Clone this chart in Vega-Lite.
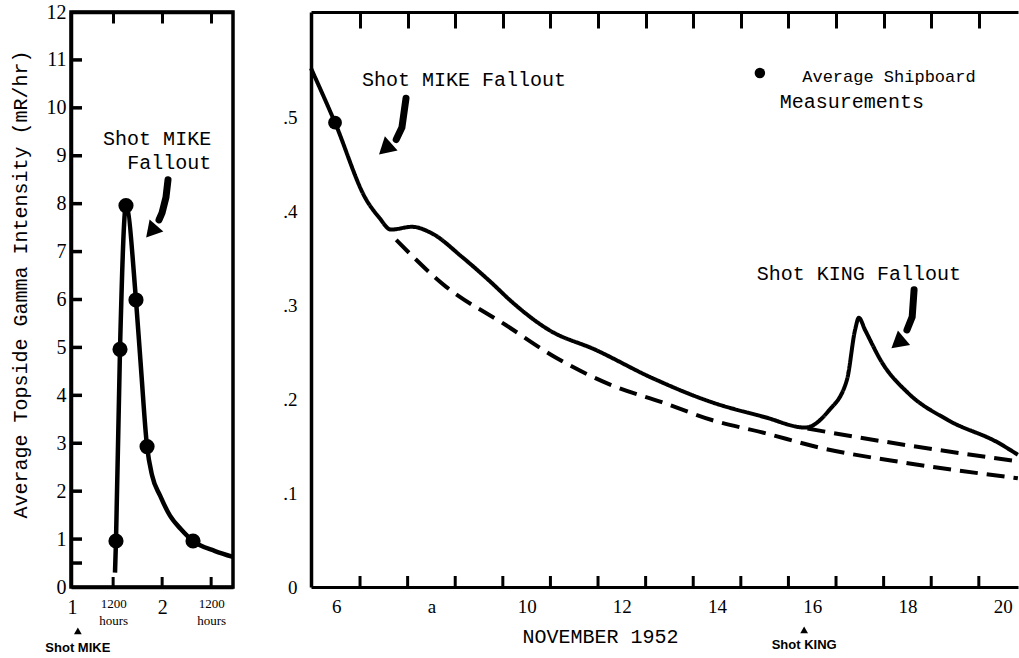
{
  "$schema": "https://vega.github.io/schema/vega-lite/v6.json",
  "background": "white",
  "padding": {"left": 8, "top": 0, "right": 0, "bottom": 0},
  "spacing": 38,
  "config": {
    "view": {"stroke": null},
    "axis": {"grid": false, "labelColor": "black", "titleColor": "black", "domainColor": "black", "tickColor": "black", "labelFont": "Liberation Serif", "titleFont": "Liberation Mono", "titleFontWeight": "normal", "labelFlush": false, "labelOverlap": false},
    "text": {"font": "Liberation Mono", "fontSize": 20, "color": "black"}
  },
  "datasets": {
    "leftCurve": [
      {"day": 1.519, "mR": 0.3}, {"day": 1.529, "mR": 0.96}, {"day": 1.57, "mR": 4.96}, {"day": 1.631, "mR": 7.96},
      {"day": 1.733, "mR": 5.99}, {"day": 1.784, "mR": 4.57}, {"day": 1.846, "mR": 2.93}, {"day": 1.897, "mR": 2.33},
      {"day": 1.978, "mR": 1.91}, {"day": 2.08, "mR": 1.49}, {"day": 2.19, "mR": 1.21}, {"day": 2.315, "mR": 0.96},
      {"day": 2.54, "mR": 0.75}, {"day": 2.723, "mR": 0.63}
    ],
    "leftPoints": [
      {"day": 1.529, "mR": 0.96}, {"day": 1.57, "mR": 4.96}, {"day": 1.631, "mR": 7.96},
      {"day": 1.733, "mR": 5.99}, {"day": 1.846, "mR": 2.93}, {"day": 2.315, "mR": 0.96}
    ],
    "leftYTicks": [
      {"mR": 0.5}, {"mR": 1}, {"mR": 2}, {"mR": 3}, {"mR": 4}, {"mR": 5}, {"mR": 6},
      {"mR": 7}, {"mR": 8}, {"mR": 9}, {"mR": 10}, {"mR": 11}
    ],
    "leftXTicks": [{"day": 1.5}, {"day": 2}, {"day": 2.5}],
    "leftArrow": [
      {"order": 1, "day": 2.06, "mR": 8.5}, {"order": 2, "day": 2.039, "mR": 8.13},
      {"order": 3, "day": 1.999, "mR": 7.81}, {"order": 4, "day": 1.968, "mR": 7.66}
    ],
    "leftHead": [{"day": 1.907, "mR": 7.46}],
    "leftNotes": [{"day": 2.5, "mR": 9.35, "text": "Shot MIKE"}, {"day": 2.5, "mR": 8.85, "text": "Fallout"}],
    "leftShot": [{"day": 1.14, "mR": -0.94, "labelAt": -1.28, "text": "Shot MIKE"}],
    "rightXTicks": [
      {"day": 6.5}, {"day": 7.5}, {"day": 8.5}, {"day": 9.5}, {"day": 10.5}, {"day": 11.5}, {"day": 12.5},
      {"day": 13.5}, {"day": 14.5}, {"day": 15.5}, {"day": 16.5}, {"day": 17.5}, {"day": 18.5}, {"day": 19.5}
    ],
    "rightCurve": [
      {"series": "measured", "day": 5.47, "rate": 0.553}, {"series": "measured", "day": 5.975, "rate": 0.495},
      {"series": "measured", "day": 6.63, "rate": 0.413}, {"series": "measured", "day": 6.9, "rate": 0.394},
      {"series": "measured", "day": 7.15, "rate": 0.381}, {"series": "measured", "day": 7.59, "rate": 0.384},
      {"series": "measured", "day": 8.01, "rate": 0.377}, {"series": "measured", "day": 8.64, "rate": 0.352},
      {"series": "measured", "day": 9.27, "rate": 0.324}, {"series": "measured", "day": 9.69, "rate": 0.304},
      {"series": "measured", "day": 10.47, "rate": 0.274}, {"series": "measured", "day": 11.44, "rate": 0.253},
      {"series": "measured", "day": 12.63, "rate": 0.223}, {"series": "measured", "day": 13.89, "rate": 0.197},
      {"series": "measured", "day": 15.01, "rate": 0.181}, {"series": "measured", "day": 15.85, "rate": 0.17},
      {"series": "measured", "day": 16.33, "rate": 0.187}, {"series": "measured", "day": 16.73, "rate": 0.221},
      {"series": "measured", "day": 16.9, "rate": 0.274}, {"series": "measured", "day": 16.98, "rate": 0.287},
      {"series": "measured", "day": 17.11, "rate": 0.274}, {"series": "measured", "day": 17.47, "rate": 0.239},
      {"series": "measured", "day": 18.01, "rate": 0.207}, {"series": "measured", "day": 18.85, "rate": 0.178},
      {"series": "measured", "day": 19.9, "rate": 0.154}, {"series": "measured", "day": 20.32, "rate": 0.141},
      {"series": "MIKE decay", "day": 7.26, "rate": 0.37}, {"series": "MIKE decay", "day": 8.31, "rate": 0.32},
      {"series": "MIKE decay", "day": 9.57, "rate": 0.279}, {"series": "MIKE decay", "day": 10.6, "rate": 0.245},
      {"series": "MIKE decay", "day": 11.79, "rate": 0.215}, {"series": "MIKE decay", "day": 12.84, "rate": 0.197},
      {"series": "MIKE decay", "day": 13.89, "rate": 0.178}, {"series": "MIKE decay", "day": 15.01, "rate": 0.164},
      {"series": "MIKE decay", "day": 16.12, "rate": 0.149}, {"series": "MIKE decay", "day": 18.01, "rate": 0.132},
      {"series": "MIKE decay", "day": 20.32, "rate": 0.116},
      {"series": "KING decay", "day": 15.9, "rate": 0.169}, {"series": "KING decay", "day": 16.12, "rate": 0.167},
      {"series": "KING decay", "day": 18.01, "rate": 0.151}, {"series": "KING decay", "day": 20.32, "rate": 0.134}
    ],
    "rightPoints": [{"day": 5.975, "rate": 0.495}],
    "rightArrows": [
      {"arrow": "MIKE", "order": 1, "day": 7.466, "rate": 0.521}, {"arrow": "MIKE", "order": 2, "day": 7.38, "rate": 0.49},
      {"arrow": "MIKE", "order": 3, "day": 7.26, "rate": 0.477},
      {"arrow": "KING", "order": 1, "day": 18.14, "rate": 0.317}, {"arrow": "KING", "order": 2, "day": 18.1, "rate": 0.288},
      {"arrow": "KING", "order": 3, "day": 17.99, "rate": 0.274}
    ],
    "rightHeads": [{"arrow": "MIKE", "day": 7.07, "rate": 0.469}, {"arrow": "KING", "day": 17.84, "rate": 0.262}],
    "rightNotes": [
      {"note": "MIKE", "day": 6.54, "rate": 0.54, "text": "Shot MIKE Fallout"},
      {"note": "KING", "day": 16.98, "rate": 0.334, "text": "Shot KING Fallout"}
    ],
    "legendMark": [{"day": 14.9, "rate": 0.548}],
    "legendText": [
      {"line": 1, "day": 15.79, "rate": 0.544, "text": "Average  Shipboard"},
      {"line": 2, "day": 15.32, "rate": 0.517, "text": "Measurements"}
    ],
    "kingShot": [{"day": 15.83, "rate": -0.047, "labelAt": -0.062, "text": "Shot KING"}]
  },
  "hconcat": [
    {
      "width": 162,
      "height": 575,
      "view": {"stroke": "black", "strokeWidth": 3.5},
      "resolve": {"axis": {"x": "independent"}},
      "layer": [
        {
          "data": {"name": "leftCurve"},
          "mark": {"type": "line", "interpolate": "monotone", "color": "black", "strokeWidth": 4.5},
          "encoding": {
            "x": {"field": "day", "type": "quantitative", "scale": {"domain": [1.07, 2.723], "nice": false, "zero": false},
              "axis": {"orient": "bottom", "title": null, "values": [1.08, 1.5, 2, 2.5], "domainWidth": 3.5, "ticks": false,
                "labelExpr": "datum.value < 1.2 ? '1' : datum.value == 2 ? '2' : ['1200', 'hours']",
                "labelFontSize": {"condition": {"test": "datum.value < 1.2 || datum.value == 2", "value": 20}, "value": 13},
                "labelLineHeight": 17, "labelPadding": 10}},
            "y": {"field": "mR", "type": "quantitative", "scale": {"domain": [0, 12], "nice": false},
              "axis": {"orient": "left", "values": [0, 1, 2, 3, 4, 5, 6, 7, 8, 9, 10, 11, 12], "format": "d",
                "labelFontSize": 20, "domainWidth": 3.5, "ticks": false, "labelPadding": 5,
                "title": "Average Topside Gamma Intensity (mR/hr)", "titleFontSize": 20, "titlePadding": 16, "titleY": 272}}
          }
        },
        {
          "data": {"name": "leftPoints"},
          "mark": {"type": "point", "opacity": 0},
          "encoding": {
            "x": {"field": "day", "type": "quantitative", "axis": {"orient": "top", "title": null, "values": [1.5, 2, 2.5], "labels": false, "domainWidth": 3.5, "tickSize": -11, "tickWidth": 3}},
            "y": {"field": "mR", "type": "quantitative"}
          }
        },
        {
          "data": {"name": "leftYTicks"},
          "mark": {"type": "rule", "color": "black", "strokeWidth": 3.5, "x2Offset": 11},
          "encoding": {
            "x": {"datum": 1.07, "type": "quantitative", "axis": null},
            "x2": {"datum": 1.07},
            "y": {"field": "mR", "type": "quantitative"}
          }
        },
        {
          "data": {"name": "leftXTicks"},
          "mark": {"type": "rule", "color": "black", "strokeWidth": 3, "y2Offset": -10},
          "encoding": {
            "x": {"field": "day", "type": "quantitative", "axis": null},
            "y": {"datum": 0, "type": "quantitative"},
            "y2": {"datum": 0}
          }
        },
        {
          "data": {"name": "leftPoints"},
          "mark": {"type": "circle", "color": "black", "opacity": 1, "size": 230},
          "encoding": {"x": {"field": "day", "type": "quantitative", "axis": null}, "y": {"field": "mR", "type": "quantitative"}}
        },
        {
          "data": {"name": "leftArrow"},
          "mark": {"type": "line", "color": "black", "strokeWidth": 7, "strokeCap": "round"},
          "encoding": {"x": {"field": "day", "type": "quantitative", "axis": null}, "y": {"field": "mR", "type": "quantitative"}, "order": {"field": "order"}}
        },
        {
          "data": {"name": "leftHead"},
          "mark": {"type": "point", "shape": "triangle", "filled": true, "color": "black", "opacity": 1, "size": 330, "angle": 221},
          "encoding": {"x": {"field": "day", "type": "quantitative", "axis": null}, "y": {"field": "mR", "type": "quantitative"}}
        },
        {
          "data": {"name": "leftNotes"},
          "mark": {"type": "text", "align": "right", "baseline": "middle"},
          "encoding": {"x": {"field": "day", "type": "quantitative", "axis": null}, "y": {"field": "mR", "type": "quantitative"}, "text": {"field": "text"}}
        },
        {
          "data": {"name": "leftShot"},
          "mark": {"type": "point", "shape": "triangle", "filled": true, "color": "black", "opacity": 1, "size": 60},
          "encoding": {"x": {"field": "day", "type": "quantitative", "axis": null}, "y": {"field": "mR", "type": "quantitative"}}
        },
        {
          "data": {"name": "leftShot"},
          "mark": {"type": "text", "font": "Liberation Sans", "fontWeight": "bold", "fontSize": 13, "baseline": "middle"},
          "encoding": {"x": {"field": "day", "type": "quantitative", "axis": null}, "y": {"field": "labelAt", "type": "quantitative"}, "text": {"field": "text"}}
        }
      ]
    },
    {
      "width": 707,
      "height": 575,
      "resolve": {"axis": {"x": "independent"}},
      "layer": [
        {
          "data": {"name": "rightCurve"},
          "mark": {"type": "line", "interpolate": "monotone", "color": "black", "strokeWidth": 4},
          "encoding": {
            "x": {"field": "day", "type": "quantitative", "scale": {"domain": [5.47, 20.323], "nice": false, "zero": false},
              "axis": {"orient": "bottom", "values": [6, 8, 10, 12, 14, 16, 18, 20], "ticks": false,
                "labelExpr": "datum.value == 8 ? 'a' : format(datum.value, 'd')",
                "labelFontSize": 19, "labelPadding": 10, "domainWidth": 3,
                "title": "NOVEMBER 1952", "titleFontSize": 20, "titlePadding": 10, "titleX": 289}},
            "y": {"field": "rate", "type": "quantitative", "scale": {"domain": [0, 0.613], "nice": false},
              "axis": {"orient": "left", "values": [0, 0.1, 0.2, 0.3, 0.4, 0.5], "ticks": false, "labelFontSize": 19, "labelPadding": 14, "domainWidth": 3.5, "title": null,
                "labelExpr": "datum.value == 0 ? '0' : replace(format(datum.value, '.1f'), '0.', '.')"}},
            "strokeDash": {"field": "series", "type": "nominal", "scale": {"domain": ["measured", "MIKE decay", "KING decay"], "range": [[1, 0], [18, 9], [18, 9]]}, "legend": null}
          }
        },
        {
          "data": {"name": "legendMark"},
          "mark": {"type": "point", "shape": "circle", "filled": true, "color": "black", "opacity": 1, "size": 110},
          "encoding": {
            "x": {"field": "day", "type": "quantitative", "axis": {"orient": "top", "title": null, "values": [6.5, 7.5, 8.5, 9.5, 10.5, 11.5, 12.5, 13.5, 14.5, 15.5, 16.5, 17.5, 18.5, 19.5], "labels": false, "domainWidth": 3, "tickSize": -16, "tickWidth": 3}},
            "y": {"field": "rate", "type": "quantitative"}
          }
        },
        {
          "data": {"name": "rightXTicks"},
          "mark": {"type": "rule", "color": "black", "strokeWidth": 3, "y2Offset": -11},
          "encoding": {
            "x": {"field": "day", "type": "quantitative", "axis": null},
            "y": {"datum": 0, "type": "quantitative"},
            "y2": {"datum": 0}
          }
        },
        {
          "data": {"name": "rightPoints"},
          "mark": {"type": "circle", "color": "black", "opacity": 1, "size": 190},
          "encoding": {"x": {"field": "day", "type": "quantitative", "axis": null}, "y": {"field": "rate", "type": "quantitative"}}
        },
        {
          "data": {"name": "rightArrows"},
          "mark": {"type": "line", "color": "black", "strokeWidth": 7, "strokeCap": "round"},
          "encoding": {"x": {"field": "day", "type": "quantitative", "axis": null}, "y": {"field": "rate", "type": "quantitative"}, "detail": {"field": "arrow"}, "order": {"field": "order"}}
        },
        {
          "data": {"name": "rightHeads"},
          "transform": [{"filter": "datum.arrow == 'MIKE'"}],
          "mark": {"type": "point", "shape": "triangle", "filled": true, "color": "black", "opacity": 1, "size": 360, "angle": 228},
          "encoding": {"x": {"field": "day", "type": "quantitative", "axis": null}, "y": {"field": "rate", "type": "quantitative"}}
        },
        {
          "data": {"name": "rightHeads"},
          "transform": [{"filter": "datum.arrow == 'KING'"}],
          "mark": {"type": "point", "shape": "triangle", "filled": true, "color": "black", "opacity": 1, "size": 360, "angle": 230},
          "encoding": {"x": {"field": "day", "type": "quantitative", "axis": null}, "y": {"field": "rate", "type": "quantitative"}}
        },
        {
          "data": {"name": "rightNotes"},
          "transform": [{"filter": "datum.note == 'MIKE'"}],
          "mark": {"type": "text", "align": "left", "baseline": "middle"},
          "encoding": {"x": {"field": "day", "type": "quantitative", "axis": null}, "y": {"field": "rate", "type": "quantitative"}, "text": {"field": "text"}}
        },
        {
          "data": {"name": "rightNotes"},
          "transform": [{"filter": "datum.note == 'KING'"}],
          "mark": {"type": "text", "align": "center", "baseline": "middle"},
          "encoding": {"x": {"field": "day", "type": "quantitative", "axis": null}, "y": {"field": "rate", "type": "quantitative"}, "text": {"field": "text"}}
        },
        {
          "data": {"name": "legendText"},
          "transform": [{"filter": "datum.line == 1"}],
          "mark": {"type": "text", "align": "left", "baseline": "middle", "fontSize": 17},
          "encoding": {"x": {"field": "day", "type": "quantitative", "axis": null}, "y": {"field": "rate", "type": "quantitative"}, "text": {"field": "text"}}
        },
        {
          "data": {"name": "legendText"},
          "transform": [{"filter": "datum.line == 2"}],
          "mark": {"type": "text", "align": "left", "baseline": "middle"},
          "encoding": {"x": {"field": "day", "type": "quantitative", "axis": null}, "y": {"field": "rate", "type": "quantitative"}, "text": {"field": "text"}}
        },
        {
          "data": {"name": "kingShot"},
          "mark": {"type": "point", "shape": "triangle", "filled": true, "color": "black", "opacity": 1, "size": 60},
          "encoding": {"x": {"field": "day", "type": "quantitative", "axis": null}, "y": {"field": "rate", "type": "quantitative"}}
        },
        {
          "data": {"name": "kingShot"},
          "mark": {"type": "text", "font": "Liberation Sans", "fontWeight": "bold", "fontSize": 13, "baseline": "middle"},
          "encoding": {"x": {"field": "day", "type": "quantitative", "axis": null}, "y": {"field": "labelAt", "type": "quantitative"}, "text": {"field": "text"}}
        }
      ]
    }
  ]
}
